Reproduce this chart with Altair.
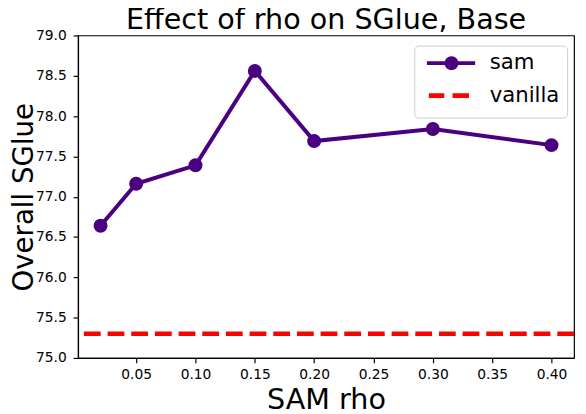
import altair as alt
import pandas as pd

# ---- data ----
rho_values = [0.02, 0.05, 0.10, 0.15, 0.20, 0.30, 0.40]
sam_scores = [76.64, 77.16, 77.39, 78.56, 77.69, 77.84, 77.64]
vanilla_score = 75.30
series_names = ["sam", "vanilla"]
x_ticks = [0.05, 0.10, 0.15, 0.20, 0.25, 0.30, 0.35, 0.40]
y_ticks = [75.0, 75.5, 76.0, 76.5, 77.0, 77.5, 78.0, 78.5, 79.0]

PURPLE = "#4B0082"
RED = "#FF0000"
FONT = "DejaVu Sans"

sam_df = pd.DataFrame({"rho": rho_values, "score": sam_scores})
van_df = pd.DataFrame({"score": [vanilla_score]})
leg_df = pd.DataFrame({"series": series_names, "score": [sam_scores[0], vanilla_score]})

W, H = 503, 327

x_scale = alt.Scale(domain=[0.001, 0.419], nice=False, zero=False)
y_scale = alt.Scale(domain=[75.0, 79.0], nice=False, zero=False)

x_axis = alt.Axis(
    title="SAM rho", values=x_ticks, format=".2f", grid=False,
    labelFont=FONT, labelFontSize=14, labelColor="black", labelPadding=5,
    tickSize=5, tickColor="black", domainColor="black",
    titleFont=FONT, titleFontSize=29, titleFontWeight="normal", titleColor="black",
    titleBaseline="alphabetic", titleY=51, titleX=W / 2, titleAlign="center",
    labelFlush=False, labelOverlap=False,
)
y_axis = alt.Axis(
    title="Overall SGlue", values=y_ticks, format=".1f", grid=False,
    labelFont=FONT, labelFontSize=14, labelColor="black", labelPadding=7,
    tickSize=5, tickColor="black", domainColor="black",
    titleFont=FONT, titleFontSize=28, titleFontWeight="normal", titleColor="black",
    titleAngle=270, titleBaseline="alphabetic", titleX=-46, titleY=H / 2,
    titleAlign="center", labelFlush=False, labelOverlap=False,
)

line = alt.Chart(sam_df).mark_line(color=PURPLE, strokeWidth=4).encode(
    x=alt.X("rho:Q", scale=x_scale, axis=x_axis),
    y=alt.Y("score:Q", scale=y_scale, axis=y_axis),
)
pts = alt.Chart(sam_df).mark_point(filled=True, color=PURPLE, size=200, opacity=1).encode(
    x=alt.X("rho:Q", scale=x_scale),
    y=alt.Y("score:Q", scale=y_scale),
)
rule = alt.Chart(van_df).mark_rule(color=RED, strokeWidth=4.7, strokeDash=[17, 7]).encode(
    y=alt.Y("score:Q", scale=y_scale),
)

# legend symbols (custom paths, units scaled by sqrt(size)/2 = 5px)
sam_sym = ("M-1,-0.38H8.8V0.38H-1Z "
           "M5.4,0A1.4,1.4,0,1,1,2.6,0A1.4,1.4,0,1,1,5.4,0Z")
van_sym = "M-0.6,-0.47H2.54V0.47H-0.6Z M4.2,-0.47H7.54V0.47H4.2Z M0,3.0L0,3.0"

legend_layer = alt.Chart(leg_df).mark_point(filled=True, opacity=0).encode(
    y=alt.Y("score:Q", scale=y_scale),
    color=alt.Color("series:N", scale=alt.Scale(domain=series_names, range=[PURPLE, RED]),
                    legend=alt.Legend(
                        title=None, orient="none", legendX=341, legendY=10.3,
                        padding=7, fillColor="rgba(255,255,255,0.8)", strokeColor="#cccccc",
                        cornerRadius=4, labelFont=FONT, labelFontSize=21.5, labelColor="black",
                        labelOffset=48, rowPadding=10, symbolSize=100, symbolOpacity=1,
                        symbolStrokeWidth=0)),
    shape=alt.Shape("series:N", scale=alt.Scale(domain=series_names, range=[sam_sym, van_sym]),
                    legend=None),
)

chart = alt.layer(rule, line, pts, legend_layer).properties(
    width=W, height=H,
    title=alt.TitleParams("Effect of rho on SGlue, Base", font=FONT, fontSize=29,
                          fontWeight="normal", color="black", anchor="middle",
                          baseline="alphabetic", offset=0, dy=29),
    autosize=alt.AutoSizeParams(type="none"),
    padding={"left": 71, "top": 25, "right": 4, "bottom": 54},
).configure_view(stroke="black", strokeWidth=1.2).configure_axis(domainWidth=1.2, tickWidth=1.2)

chart.save("out.html", embed_options={"renderer": "svg", "actions": False})
